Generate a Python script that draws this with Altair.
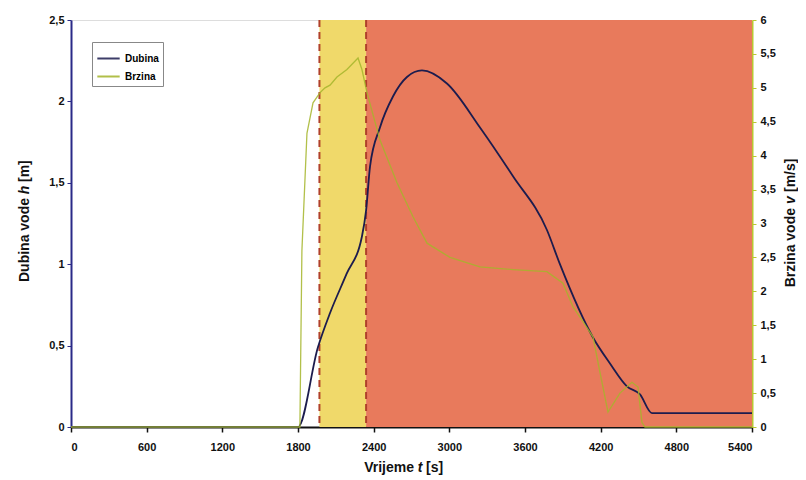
import altair as alt
import pandas as pd

# ---- data ----
h_t = [0, 1800, 1958, 2054, 2185, 2307, 2340, 2371, 2450, 2553, 2664, 2783, 2981, 3243, 3505, 3774, 3877, 4139, 4274, 4408, 4512, 4607, 5400]
h_v = [0, 0, 0.49, 0.70, 0.94, 1.17, 1.33, 1.60, 1.84, 2.03, 2.15, 2.19, 2.11, 1.84, 1.54, 1.21, 1.00, 0.55, 0.39, 0.25, 0.20, 0.085, 0.085]

v_t = [0, 1815, 1831, 1871, 1919, 1975, 2014, 2054, 2109, 2188, 2276, 2307, 2347, 2450, 2585, 2712, 2823, 3005, 3243, 3505, 3774, 3901, 3981, 4036, 4139, 4195, 4258, 4353, 4448, 4496, 4527, 4551, 5400]
v_v = [0, 0, 2.6, 4.33, 4.78, 4.93, 5.00, 5.04, 5.16, 5.27, 5.44, 5.27, 4.93, 4.23, 3.60, 3.10, 2.71, 2.50, 2.36, 2.32, 2.29, 2.12, 1.77, 1.62, 1.33, 0.80, 0.22, 0.50, 0.66, 0.59, 0.07, 0, 0]

yellow_band = [1970, 2340]
red_band = [2340, 5400]
dash_t = [1970, 2340]

x_ticks = list(range(0, 5401, 600))
h_ticks = [0, 0.5, 1, 1.5, 2, 2.5]
v_ticks = [i * 0.5 for i in range(13)]

series = ["Dubina", "Brzina"]
series_colors = ["#1c1c4e", "#a4b52a"]

FONT = "Liberation Sans"

h_df = pd.DataFrame({"t": h_t, "h": h_v, "series": "Dubina"})
v_df = pd.DataFrame({"t": v_t, "v": v_v, "series": "Brzina"})
dash_df = pd.DataFrame({"t": dash_t})

xscale = alt.Scale(domain=[0, 5400], nice=False, zero=False)
xaxis = alt.Axis(values=x_ticks, grid=False, title=None, format="d", labelFont=FONT, labelFontWeight="bold",
                 labelFontSize=11, labelColor="#111", domainColor="#111", domainWidth=2,
                 tickColor="#111", tickSize=5, tickWidth=1.5, labelPadding=9)

color_scale = alt.Scale(domain=series, range=series_colors)
LBL = "replace(format(datum.value, '~g'), '.', ',')"


def band(rng, col):
    return alt.Chart(pd.DataFrame({"t0": [rng[0]], "t1": [rng[1]]})).mark_rect(color=col).encode(
        x=alt.X("t0:Q", scale=xscale, axis=xaxis), x2="t1:Q"
    )


bands = [band(yellow_band, "#f0d96a"), band(red_band, "#e87a5c")]

dashes = alt.Chart(dash_df).mark_rule(color="#b0402a", strokeWidth=2, strokeDash=[7, 5]).encode(
    x=alt.X("t:Q", scale=xscale)
)

legend = alt.Legend(title=None, orient="none", legendX=21, legendY=22,
                    symbolType="stroke", symbolStrokeWidth=2, symbolSize=500,
                    labelFont=FONT, labelFontWeight="bold", labelFontSize=10, labelOffset=4,
                    strokeColor="#888", fillColor="white", padding=4, rowPadding=0)

h_line = alt.Chart(h_df).mark_line(strokeWidth=1.8, interpolate="monotone").encode(
    x=alt.X("t:Q", scale=xscale, axis=xaxis),
    y=alt.Y("h:Q", scale=alt.Scale(domain=[0, 2.5], nice=False),
            axis=alt.Axis(values=h_ticks, title=None, grid=False, orient="left", labelExpr=LBL,
                          labelFont=FONT, labelFontWeight="bold", labelFontSize=11, labelColor="#111",
                          domainColor="#2a2a88", domainWidth=2, tickColor="#2a2a88", tickSize=4,
                          labelPadding=3)),
    color=alt.Color("series:N", scale=color_scale, legend=legend),
)

v_line = alt.Chart(v_df).mark_line(strokeWidth=1.3, opacity=0.85).encode(
    x=alt.X("t:Q", scale=xscale, axis=xaxis),
    y=alt.Y("v:Q", scale=alt.Scale(domain=[0, 6], nice=False),
            axis=alt.Axis(values=v_ticks, title=None, grid=False, orient="right", labelExpr=LBL,
                          labelFont=FONT, labelFontWeight="bold", labelFontSize=11, labelColor="#111",
                          domainColor="#b8c830", domainWidth=2, tickColor="#b8c830", tickSize=4,
                          labelPadding=4)),
    color=alt.Color("series:N", scale=color_scale, legend=legend),
)


def txt(text, x, y, align="center", angle=0, italic=False):
    return alt.Chart(pd.DataFrame({"s": [text]})).mark_text(
        font=FONT, fontSize=14, fontWeight="bold", fontStyle="italic" if italic else "normal",
        align=align, baseline="middle", angle=angle, color="#111"
    ).encode(text="s:N", x=alt.value(x), y=alt.value(y))


titles = [
    txt("Vrijeme", 343, 448, align="right"),
    txt("t", 349, 448, italic=True),
    txt("[s]", 355, 448, align="left"),
    txt("Dubina vode", -46, 178, align="right", angle=270),
    txt("h", -46, 170, angle=270, italic=True),
    txt("[m]", -46, 162, align="left", angle=270),
    txt("Brzina vode", 720, 188, align="right", angle=270),
    txt("v", 720, 180, angle=270, italic=True),
    txt("[m/s]", 720, 172, align="left", angle=270),
]

chart = alt.layer(*bands, dashes, h_line, v_line, *titles).resolve_scale(
    y="independent"
).properties(
    width=681, height=407,
    autosize=alt.AutoSizeParams(type="none"),
    padding={"left": 63, "top": 12, "right": 46, "bottom": 52},
).configure_view(stroke="#999", strokeWidth=1).configure(background="white")

chart.save("out.html", embed_options={"renderer": "svg", "actions": False})
